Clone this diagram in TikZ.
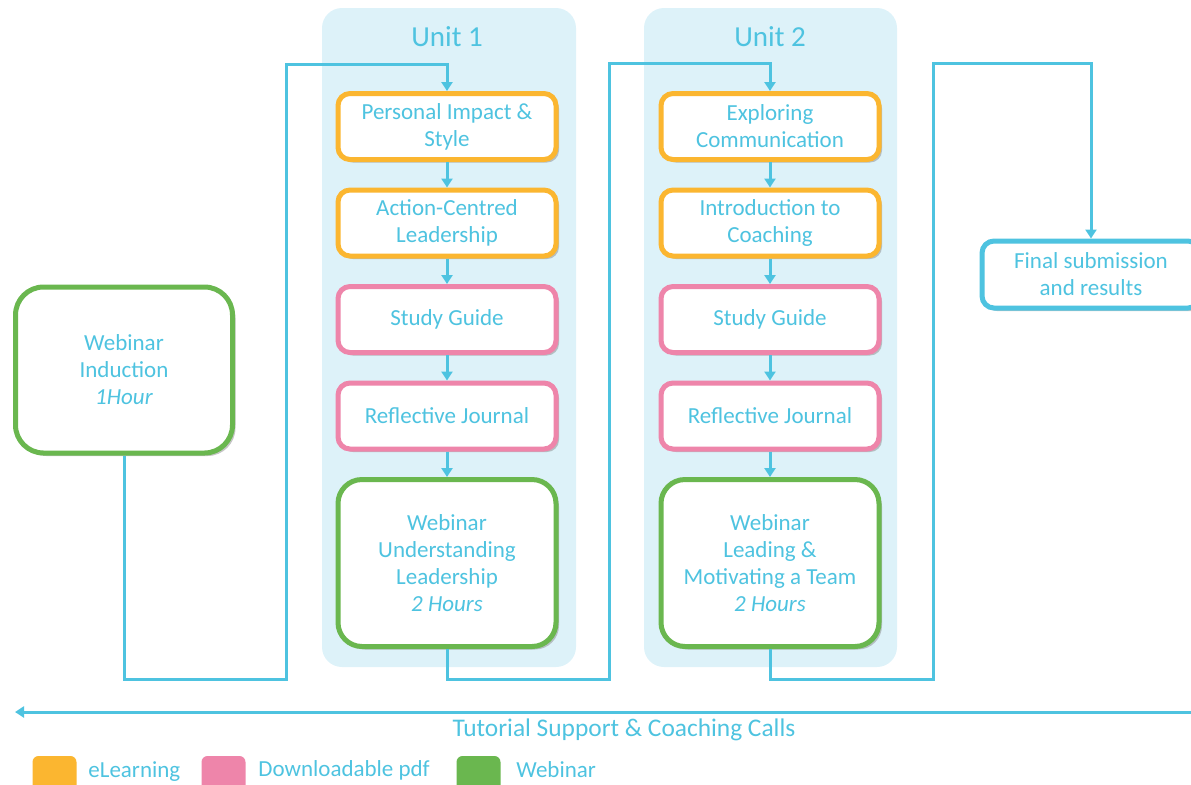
\documentclass[tikz,border=0pt]{standalone}
\usepackage{fontspec}
\setmainfont{Carlito}
\usetikzlibrary{positioning, arrows.meta, shadows}

\definecolor{ublue}{HTML}{4EC3E0}
\definecolor{uorange}{HTML}{FBB630}
\definecolor{upink}{HTML}{EE85AA}
\definecolor{ugreen}{HTML}{6AB74F}
\definecolor{uback}{HTML}{DDF2F9}

\begin{document}
\begin{tikzpicture}[x=0.5pt, y=-0.5pt, node distance=12.75pt,
    every node/.style={text=ublue, font=\fontsize{11.5}{13.5}\selectfont},
    box/.style={rectangle, draw, line width=2.5pt, rounded corners=6pt, fill=white, align=center,
        minimum width=109pt, minimum height=33pt, inner sep=2pt,
        drop shadow={shadow xshift=1.5pt, shadow yshift=-1.5pt, fill=black!45}},
    elearn/.style={box, draw=uorange},
    pdf/.style={box, draw=upink},
    webinar/.style={box, draw=ugreen, rounded corners=12pt, minimum height=83.5pt},
    unitback/.style={fill=uback, rounded corners=10pt},
    flow/.style={draw=ublue, line width=1.5pt},
    tip/.style={-{Triangle[width=5.5pt, length=4.5pt]}},
    legsq/.style={rectangle, rounded corners=3pt, minimum width=22pt, minimum height=22pt, inner sep=0pt},
    legtext/.style={anchor=west, inner sep=0pt, font=\fontsize{11.5}{14}\selectfont}]

    \useasboundingbox (0,0) rectangle (1191,784);
    \clip (0,0) rectangle (1191,784);

    % unit backgrounds
    \fill[unitback] (322,8) rectangle (576,667);
    \fill[unitback] (644,8) rectangle (897,667);
    \node[font=\fontsize{14.5}{17}\selectfont] (u1) at (447,37) {Unit 1};
    \node[font=\fontsize{14.5}{17}\selectfont] (u2) at (770,37) {Unit 2};

    % induction
    \node[webinar, minimum width=108.5pt, minimum height=83pt, rounded corners=14pt] (ind) at (124,370)
        {Webinar\\Induction\\\textit{1Hour}};

    % unit 1
    \node[elearn] (p1) at (447,126.5) {Personal Impact \&\\Style};
    \node[elearn] (p2) [below=of p1] {Action-Centred\\Leadership};
    \node[pdf] (p3) [below=of p2] {Study Guide};
    \node[pdf] (p4) [below=of p3] {Reflective Journal};
    \node[webinar] (p5) [below=of p4] {Webinar\\Understanding\\Leadership\\\textit{2 Hours}};

    % unit 2
    \node[elearn] (e1) at (770,126.5) {Exploring\\Communication};
    \node[elearn] (e2) [below=of e1] {Introduction to\\Coaching};
    \node[pdf] (e3) [below=of e2] {Study Guide};
    \node[pdf] (e4) [below=of e3] {Reflective Journal};
    \node[webinar] (e5) [below=of e4] {Webinar\\Leading \&\\Motivating a Team\\\textit{2 Hours}};

    % final
    \node[box, draw=ublue, minimum height=33.5pt] (fin) at (1091,274.5) {Final submission\\and results};

    \foreach \i/\j in {p1/p2, p2/p3, p3/p4, p4/p5, e1/e2, e2/e3, e3/e4, e4/e5} {
        \draw[flow, tip] (\i) -- (\j);
    }

    % links between stages
    \draw[flow, tip] (ind.south) |- (286,679) -- (286,64) -| (p1.north);
    \draw[flow, tip] (p5.south) |- (609,679) -- (609,63) -| (e1.north);
    \draw[flow, tip] (e5.south) |- (933,679) -- (933,63) -| (fin.north);

    % tutorial support
    \coordinate (tutR) at (1195,712);
    \coordinate (tutL) at (15,712);
    \draw[flow, tip] (tutR) -- (tutL);
    \node[font=\fontsize{12.7}{15}\selectfont] (tut) at (624,730) {Tutorial Support \& Coaching Calls};

    % legend
    \node[legsq, fill=uorange] (lgE) at (54.5,778) {};
    \node[legsq, fill=upink] (lgP) at (223.5,778) {};
    \node[legsq, fill=ugreen] (lgW) at (478.5,778) {};
    \node[legtext] (txE) at (88,772) {eLearning};
    \node[legtext] (txP) at (258,770) {Downloadable pdf};
    \node[legtext] (txW) at (516,770) {Webinar};
\end{tikzpicture}
\end{document}
